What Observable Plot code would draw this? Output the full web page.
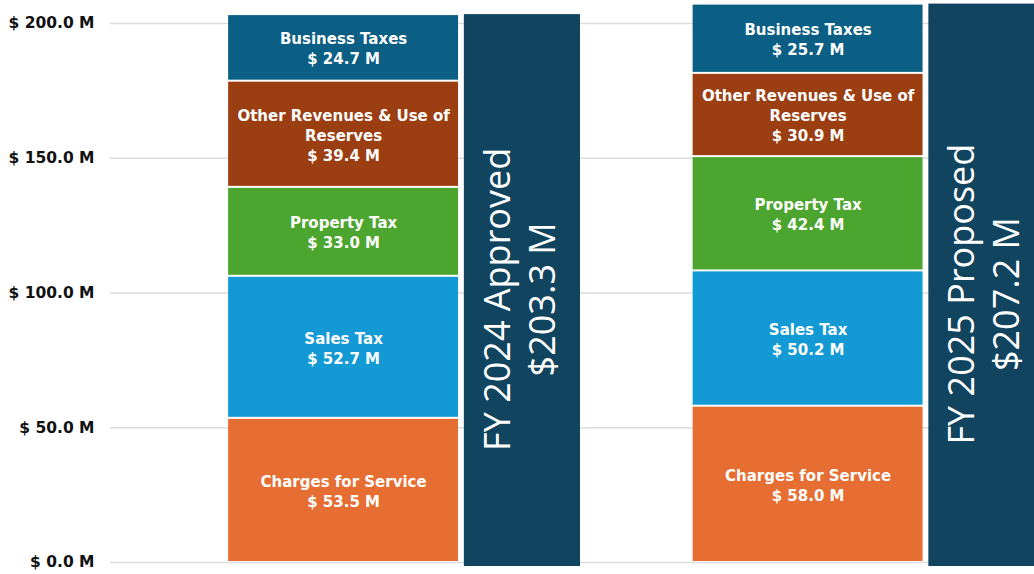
<!DOCTYPE html>
<html>
<head>
<meta charset="utf-8">
<script src="https://cdn.jsdelivr.net/npm/d3@7"></script>
<script src="https://cdn.jsdelivr.net/npm/@observablehq/plot@0.6"></script>
<style>
  html, body { margin: 0; padding: 0; background: #ffffff; }
  #chart g[aria-label="y-axis tick label"] text { font-weight: bold; }
</style>
</head>
<body>
<div id="chart"></div>
<script>
// ---- Data ----
const years = ["FY 2024 Approved", "FY 2025 Proposed"];
const categories = ["Charges for Service", "Sales Tax", "Property Tax", "Other Revenues & Use of Reserves", "Business Taxes"];
const fy2024 = [53.5, 52.7, 33.0, 39.4, 24.7];
const fy2025 = [58.0, 50.2, 42.4, 30.9, 25.7];
const totals = [203.3, 207.2];
const yTicks = [0, 50, 100, 150, 200];
const colors = ["#e66e32", "#139ad4", "#4ca52e", "#9b3e12", "#0b5e84"];
const totalColor = "#11445f";

// ---- Build tables ----
const series = [fy2024, fy2025];
const segs = [];
series.forEach((vals, i) => {
  let acc = 0;
  vals.forEach((v, j) => {
    segs.push({year: years[i], slot: i, category: categories[j], value: v, y1: acc, y2: acc + v});
    acc += v;
  });
});
const tots = years.map((y, i) => ({year: y, slot: i, total: totals[i]}));

const fmt = v => `$ ${v.toFixed(1)} M`;

const chart = Plot.plot({
  width: 1034,
  height: 574,
  marginLeft: 110,
  marginRight: 0,
  marginTop: 23,
  marginBottom: 12,
  style: {fontFamily: "DejaVu Sans", fontSize: "15.5px", color: "#111", background: "#ffffff"},
  x: {domain: [0, 8], range: [112, 1041], axis: null},
  y: {domain: [0, 200], ticks: yTicks},
  color: {domain: categories, range: colors},
  marks: [
    Plot.ruleY(yTicks, {stroke: "#dcdcdc", strokeWidth: 1.5}),
    Plot.axisY({ticks: yTicks, tickSize: 0, tickPadding: 16, tickFormat: fmt, label: null, fontWeight: "bold", fontSize: 15.5}),
    Plot.rect(segs, {
      x1: d => 4 * d.slot + 1, x2: d => 4 * d.slot + 2.98,
      y1: "y1", y2: "y2", fill: "category",
      insetTop: 1, insetBottom: 1
    }),
    Plot.rect(tots, {
      x1: d => 4 * d.slot + 3.03, x2: d => 4 * d.slot + 4.03,
      y1: 0, y2: "total", fill: totalColor, insetBottom: -4
    }),
    Plot.text(segs, {
      x: d => 4 * d.slot + 1.99, y: d => (d.y1 + d.y2) / 2,
      text: d => `${d.category}\n${fmt(d.value)}`,
      lineWidth: 14.5, lineHeight: 1.33,
      fill: "white", fontWeight: "bold", fontSize: 15, fontFamily: "Dejavu Sans"
    }),
    Plot.text(tots, {
      x: d => 4 * d.slot + 3.49, y: d => d.total / 2 - 4,
      text: d => `${d.year}\n$${d.total.toFixed(1)} M`,
      rotate: -90, lineHeight: 1.25,
      fill: "white", fontSize: 36, fontFamily: "Open Sans"
    })
  ]
});
document.getElementById("chart").appendChild(chart);
</script>
</body>
</html>
